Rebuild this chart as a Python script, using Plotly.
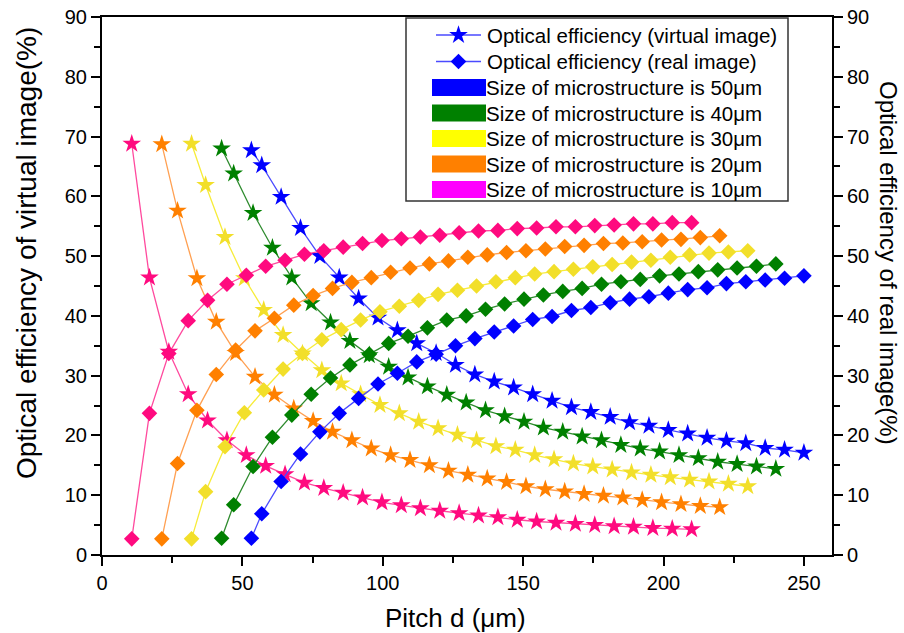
import plotly.graph_objects as go

# ---------------- data ----------------
sizes = [50, 40, 30, 20, 10]
colors = ["#0000FF", "#008000", "#F2DF2A", "#FF8000", "#FF0A7F"]
line_colors = ["#4A4AFF", "#2E8B2E", "#F7EC3A", "#FFA052", "#FF4A9E"]
legend_colors = ["#0000FF", "#008000", "#FFFF00", "#FF8000", "#FF00FF"]

pitch_50 = [53.2, 56.9, 63.8, 70.7, 77.6, 84.5, 91.4, 98.3, 105.2, 112.1, 119.0, 125.9, 132.8, 139.7, 146.6,
            153.4, 160.3, 167.2, 174.1, 181.0, 187.9, 194.8, 201.7, 208.6, 215.5, 222.4, 229.3, 236.2, 243.1, 250.0]
pitch_40 = [42.6, 46.9, 53.8, 60.7, 67.6, 74.5, 81.4, 88.3, 95.2, 102.1, 109.0, 115.9, 122.8, 129.7, 136.6,
            143.4, 150.3, 157.2, 164.1, 171.0, 177.9, 184.8, 191.7, 198.6, 205.5, 212.4, 219.3, 226.2, 233.1, 240.0]
pitch_30 = [31.9, 36.9, 43.8, 50.7, 57.6, 64.5, 71.4, 78.3, 85.2, 92.1, 99.0, 105.9, 112.8, 119.7, 126.6,
            133.4, 140.3, 147.2, 154.1, 161.0, 167.9, 174.8, 181.7, 188.6, 195.5, 202.4, 209.3, 216.2, 223.1, 230.0]
pitch_20 = [21.3, 26.9, 33.8, 40.7, 47.6, 54.5, 61.4, 68.3, 75.2, 82.1, 89.0, 95.9, 102.8, 109.7, 116.6,
            123.4, 130.3, 137.2, 144.1, 151.0, 157.9, 164.8, 171.7, 178.6, 185.5, 192.4, 199.3, 206.2, 213.1, 220.0]
pitch_10 = [10.6, 16.9, 23.8, 30.7, 37.6, 44.5, 51.4, 58.3, 65.2, 72.1, 79.0, 85.9, 92.8, 99.7, 106.6,
            113.4, 120.3, 127.2, 134.1, 141.0, 147.9, 154.8, 161.7, 168.6, 175.5, 182.4, 189.3, 196.2, 203.1, 210.0]

virtual_50 = [67.7, 65.2, 59.9, 54.7, 50.0, 46.4, 42.9, 39.7, 37.6, 35.4, 33.8, 31.8, 30.2, 29.0, 28.0,
              26.9, 25.8, 24.7, 23.9, 23.1, 22.2, 21.6, 20.9, 20.3, 19.6, 19.1, 18.7, 17.9, 17.6, 17.1]
virtual_40 = [68.0, 63.8, 57.2, 51.4, 46.4, 42.1, 38.9, 35.8, 33.4, 31.5, 29.7, 28.2, 26.8, 25.5, 24.2,
              23.2, 22.3, 21.3, 20.6, 19.8, 19.2, 18.4, 17.8, 17.3, 16.7, 16.2, 15.6, 15.2, 14.8, 14.4]
virtual_30 = [68.8, 61.9, 53.2, 46.3, 41.0, 36.8, 33.7, 30.9, 28.7, 26.9, 25.1, 23.7, 22.3, 21.2, 20.1,
              19.2, 18.2, 17.6, 16.7, 16.0, 15.3, 14.8, 14.3, 13.8, 13.4, 13.0, 12.6, 12.3, 11.9, 11.5]
virtual_20 = [68.7, 57.6, 46.3, 39.0, 33.8, 29.8, 26.8, 24.5, 22.4, 20.6, 19.2, 17.8, 16.7, 15.9, 15.0,
              14.1, 13.4, 12.8, 12.2, 11.5, 11.0, 10.6, 10.2, 9.9, 9.6, 9.2, 8.8, 8.5, 8.2, 8.0]
virtual_10 = [68.8, 46.4, 34.0, 26.9, 22.5, 19.2, 16.7, 14.9, 13.5, 12.1, 11.2, 10.4, 9.6, 8.8, 8.3,
              7.8, 7.4, 7.0, 6.6, 6.3, 5.9, 5.6, 5.4, 5.2, 5.0, 4.8, 4.7, 4.5, 4.4, 4.3]

real_50 = [2.8, 6.9, 12.3, 16.9, 20.6, 23.7, 26.2, 28.6, 30.4, 32.3, 33.6, 35.0, 36.2, 37.3, 38.3,
           39.4, 39.9, 40.9, 41.4, 42.2, 42.8, 43.2, 43.8, 44.4, 44.7, 45.4, 45.7, 46.0, 46.3, 46.7]
real_40 = [2.8, 8.4, 14.8, 19.7, 23.4, 26.9, 29.6, 31.8, 33.6, 35.4, 36.6, 38.0, 39.3, 40.0, 41.1,
           42.0, 42.8, 43.5, 44.1, 44.6, 45.3, 45.7, 46.1, 46.7, 47.0, 47.4, 47.7, 48.0, 48.3, 48.7]
real_30 = [2.7, 10.6, 18.1, 23.8, 27.6, 31.1, 33.7, 36.0, 37.7, 39.3, 40.7, 41.6, 42.6, 43.6, 44.3,
           45.0, 45.7, 46.4, 47.0, 47.4, 47.8, 48.2, 48.6, 49.0, 49.3, 49.8, 50.2, 50.5, 50.7, 50.9]
real_20 = [2.7, 15.3, 24.2, 30.2, 34.3, 37.5, 39.6, 41.8, 43.4, 44.6, 45.6, 46.4, 47.3, 48.0, 48.7,
           49.2, 49.8, 50.2, 50.6, 50.9, 51.2, 51.6, 51.8, 52.1, 52.2, 52.4, 52.7, 52.8, 53.1, 53.4]
real_10 = [2.7, 23.7, 33.7, 39.2, 42.6, 45.3, 46.8, 48.3, 49.3, 50.3, 50.9, 51.5, 52.1, 52.6, 52.9,
           53.2, 53.5, 53.9, 54.2, 54.3, 54.6, 54.7, 54.9, 54.9, 55.1, 55.2, 55.4, 55.4, 55.6, 55.6]

pitches = [pitch_50, pitch_40, pitch_30, pitch_20, pitch_10]
virtuals = [virtual_50, virtual_40, virtual_30, virtual_20, virtual_10]
reals = [real_50, real_40, real_30, real_20, real_10]

x_ticks = [0, 50, 100, 150, 200, 250]
y_ticks = [0, 10, 20, 30, 40, 50, 60, 70, 80, 90]

x_title = "Pitch d (\u03bcm)"
y_left_title = "Optical efficiency of virtual image(%)"
y_right_title = "Optical efficiency of real image(%)"
legend_line_labels = ["Optical efficiency (virtual image)", "Optical efficiency (real image)"]
legend_size_labels = ["Size of microstructure is %d\u03bcm" % s for s in sizes]

FONT = "Liberation Sans, Arial, sans-serif"

fig = go.Figure()

for i in range(len(sizes)):
    fig.add_trace(go.Scatter(
        x=pitches[i], y=virtuals[i], mode="lines+markers",
        name="Virtual image, %d\u03bcm" % sizes[i], showlegend=False,
        line=dict(color=line_colors[i], width=1.3),
        marker=dict(symbol="star", size=14, color=colors[i], line=dict(width=0)),
        xaxis="x", yaxis="y"))
    fig.add_trace(go.Scatter(
        x=pitches[i], y=reals[i], mode="lines+markers",
        name="Real image, %d\u03bcm" % sizes[i], showlegend=False,
        line=dict(color=line_colors[i], width=1.3),
        marker=dict(symbol="diamond", size=12, color=colors[i], line=dict(width=0)),
        xaxis="x", yaxis="y2"))

# ---- manual legend on a pixel-coordinate overlay axis ----
row_y = [35, 61.5, 87.5, 113, 138.5, 164, 189.5]
fig.add_trace(go.Scatter(x=[436, 481], y=[row_y[0]] * 2, mode="lines", line=dict(color="#4A4AFF", width=1.3),
                         xaxis="x3", yaxis="y3", showlegend=False, hoverinfo="skip"))
fig.add_trace(go.Scatter(x=[458.5], y=[row_y[0]], mode="markers",
                         marker=dict(symbol="star", size=14, color="#0000FF"),
                         xaxis="x3", yaxis="y3", showlegend=False, hoverinfo="skip"))
fig.add_trace(go.Scatter(x=[436, 481], y=[row_y[1]] * 2, mode="lines", line=dict(color="#4A4AFF", width=1.3),
                         xaxis="x3", yaxis="y3", showlegend=False, hoverinfo="skip"))
fig.add_trace(go.Scatter(x=[458.5], y=[row_y[1]], mode="markers",
                         marker=dict(symbol="diamond", size=12, color="#0000FF"),
                         xaxis="x3", yaxis="y3", showlegend=False, hoverinfo="skip"))

shapes = [dict(type="rect", xref="x3", yref="y3", x0=406, x1=788, y0=18, y1=201,
               line=dict(color="#333333", width=1.5), fillcolor="rgba(255,255,255,0)", layer="above")]
annotations = []
for k, lbl in enumerate(legend_line_labels):
    annotations.append(dict(xref="x3", yref="y3", x=485, y=row_y[k], text=lbl, showarrow=False,
                            xanchor="left", yanchor="middle", font=dict(family=FONT, size=20.5, color="black")))
for k, lbl in enumerate(legend_size_labels):
    yc = row_y[k + 2]
    shapes.append(dict(type="rect", xref="x3", yref="y3", x0=432, x1=486, y0=yc - 8.5, y1=yc + 8.5,
                       line=dict(width=0), fillcolor=legend_colors[k], layer="above"))
    annotations.append(dict(xref="x3", yref="y3", x=484, y=yc, text=lbl, showarrow=False,
                            xanchor="left", yanchor="middle", font=dict(family=FONT, size=20.5, color="black")))

# axis titles (placed where the reference has them)
annotations.append(dict(xref="paper", yref="paper", x=0, xshift=-76, y=0.5613, text=y_left_title,
                        textangle=-90, showarrow=False, xanchor="center", yanchor="middle",
                        font=dict(family=FONT, size=28, color="black")))
annotations.append(dict(xref="paper", yref="paper", x=1, xshift=56, y=0.5428, text=y_right_title,
                        textangle=90, showarrow=False, xanchor="center", yanchor="middle",
                        font=dict(family=FONT, size=24, color="black")))
annotations.append(dict(xref="paper", yref="paper", x=0.4836, y=0, yshift=-63, text=x_title,
                        showarrow=False, xanchor="center", yanchor="middle",
                        font=dict(family=FONT, size=26, color="black")))

axis_common = dict(showgrid=False, zeroline=False, showline=True, linecolor="black", linewidth=2,
                   ticks="outside", ticklen=9, tickwidth=2, tickcolor="black", automargin=False,
                   tickfont=dict(family=FONT, size=20, color="black"))

fig.update_layout(
    width=904, height=633,
    margin=dict(l=102, r=72, t=17, b=78, pad=0, autoexpand=False),
    paper_bgcolor="white", plot_bgcolor="white",
    font=dict(family=FONT, color="black"),
    showlegend=False,
    xaxis=dict(range=[0, 260], tickvals=x_ticks, mirror=True,
               minor=dict(ticks="outside", ticklen=6, tickwidth=2, tickcolor="black", dtick=25, tick0=0),
               **axis_common),
    yaxis=dict(range=[0, 90], tickvals=y_ticks,
               minor=dict(ticks="outside", ticklen=6, tickwidth=2, tickcolor="black", dtick=5, tick0=0),
               **axis_common),
    yaxis2=dict(range=[0, 90], tickvals=y_ticks, overlaying="y", side="right",
                minor=dict(ticks="outside", ticklen=6, tickwidth=2, tickcolor="black", dtick=5, tick0=0),
                **axis_common),
    xaxis3=dict(range=[102, 832], domain=[0, 1], visible=False, overlaying="x", fixedrange=True),
    yaxis3=dict(range=[555, 17], domain=[0, 1], visible=False, overlaying="y", fixedrange=True),
    shapes=shapes,
    annotations=annotations,
)

fig.write_html("out.html", config={"displayModeBar": False},
               post_script="document.body.style.margin='0';document.body.style.overflow='hidden';")
